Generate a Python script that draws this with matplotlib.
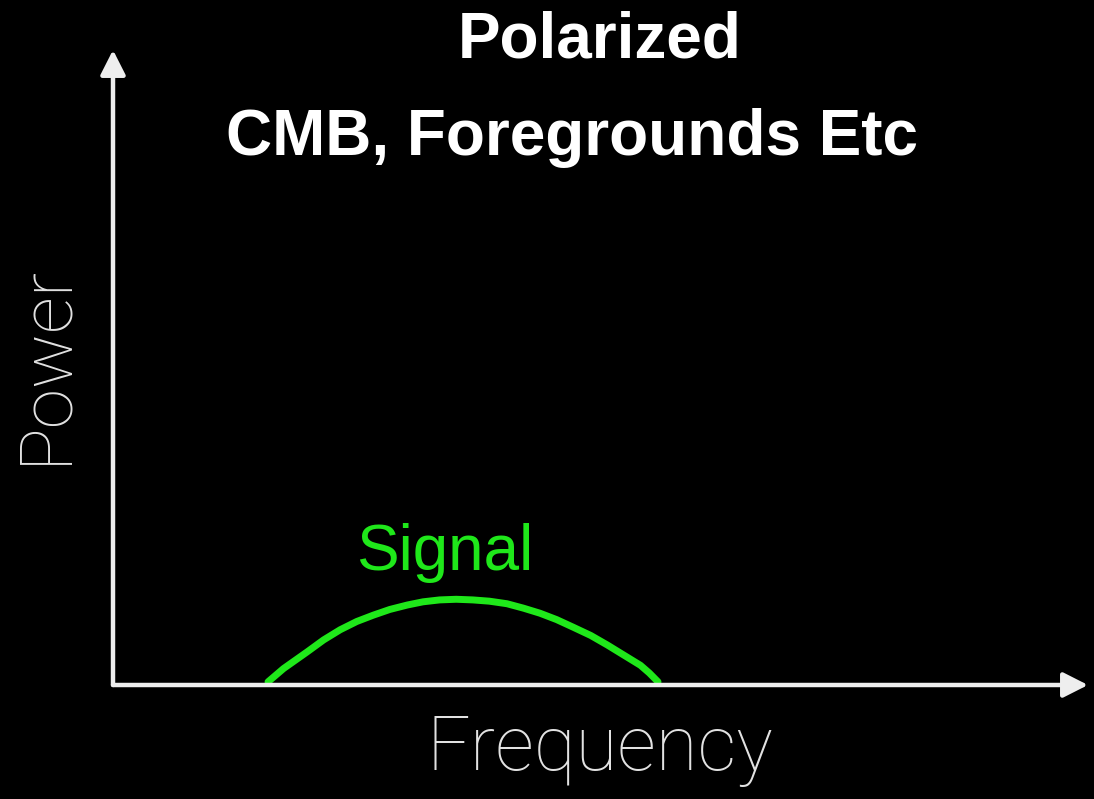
import matplotlib
matplotlib.use("Agg")
import matplotlib.pyplot as plt
import numpy as np

# Signal curve (arbitrary units, axes 0..10)
frequency = [1.59, 1.75, 1.99, 2.16, 2.33, 2.50, 2.67, 2.84, 3.02, 3.18,
             3.35, 3.52, 3.69, 3.86, 4.04, 4.21, 4.38, 4.55, 4.72, 4.90,
             5.07, 5.24, 5.41, 5.50, 5.59]
power = [0.05, 0.26, 0.52, 0.71, 0.87, 1.00, 1.10, 1.19, 1.26, 1.31,
         1.34, 1.35, 1.34, 1.32, 1.28, 1.21, 1.13, 1.03, 0.91, 0.78,
         0.63, 0.47, 0.31, 0.19, 0.05]

title_lines = ["Polarized", "CMB, Foregrounds Etc"]
x_label = "Frequency"
y_label = "Power"
signal_label = "Signal"

W, H = 1094, 799
fig = plt.figure(figsize=(W / 100, H / 100), dpi=100, facecolor="black")
ax = fig.add_axes([113 / W, 114 / H, 975 / W, 635 / H])
ax.set_facecolor("black")
ax.set_xlim(0, 10)
ax.set_ylim(0, 10)
ax.axis("off")

axis_color = "#eeeeee"
arrow_kw = dict(arrowstyle="-|>,head_length=0.75,head_width=0.38", lw=3.2,
                color=axis_color, shrinkA=0, shrinkB=0, mutation_scale=20)
ax.annotate("", xy=(10, 0), xytext=(0, 0), arrowprops=arrow_kw, annotation_clip=False)
ax.annotate("", xy=(0, 10), xytext=(0, 0), arrowprops=arrow_kw, annotation_clip=False)

green = "#1fe81a"
ax.plot(frequency, power, color=green, lw=5, solid_capstyle="round",
        solid_joinstyle="round", clip_on=False)

fig.text(600 / W, 1 - 58 / H, title_lines[0], color="white", fontsize=46,
         fontweight="bold", family="Liberation Sans", ha="center", va="baseline")
fig.text(572 / W, 1 - 155 / H, title_lines[1], color="white", fontsize=46,
         fontweight="bold", family="Liberation Sans", ha="center", va="baseline")

fig.text(600 / W, 1 - 770 / H, x_label, color="#e2e2e2", fontsize=55,
         fontweight="light", family="Roboto", ha="center", va="baseline")
fig.text(65 / W, 1 - 364 / H, y_label, color="#e2e2e2", fontsize=52.5,
         fontweight="light", family="Roboto", ha="center", va="baseline",
         rotation=90, rotation_mode="anchor")
fig.text(445 / W, 1 - 570 / H, signal_label, color=green, fontsize=46,
         family="Liberation Sans", ha="center", va="baseline")

fig.savefig("out.png", dpi=100, facecolor="black")
